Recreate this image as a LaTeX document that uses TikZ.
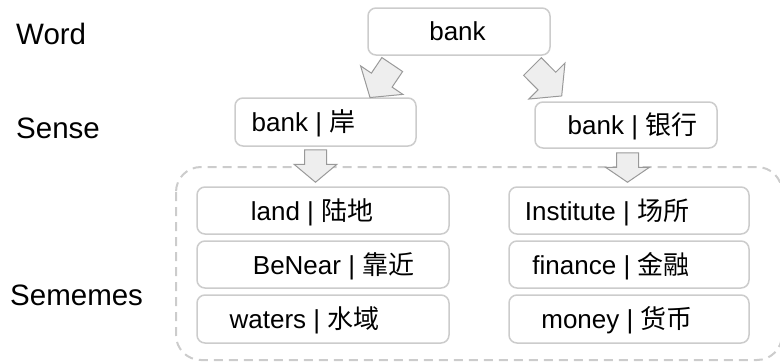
\documentclass[tikz,border=0pt]{standalone}
\usepackage{fontspec}
\setmainfont{Liberation Sans}
\newfontfamily\cjk{Noto Sans CJK SC}
\usetikzlibrary{calc}
\definecolor{boxline}{HTML}{CCCCCC}
\definecolor{arrfill}{HTML}{EEEEEE}
\definecolor{arrline}{HTML}{999999}
\tikzset{
  box/.style={draw=boxline, line width=1.5pt, rounded corners=8pt, fill=white, inner sep=0pt},
  txt/.style={anchor=base, inner sep=0pt, font=\fontsize{26}{30}\selectfont},
  lbl/.style={anchor=base west, inner sep=0pt, font=\fontsize{29.5}{34}\selectfont},
  barrow/.style={draw=arrline, fill=arrfill, line width=1pt, line join=miter},
  group/.style={draw=boxline, line width=2pt, dash pattern=on 9pt off 6pt, rounded corners=25pt}
}
\newcommand\blockarrow[5]{%
 \draw[barrow] let \p1=(#1), \p2=(#2), \n1={atan2(\y2-\y1,\x2-\x1)} in
 ($(\p1)+({\n1-90}:#3pt)$) -- ($(\p2)+({\n1+180}:#5pt)+({\n1-90}:#3pt)$)
 -- ($(\p2)+({\n1+180}:#5pt)+({\n1-90}:#4pt)$) -- (\p2)
 -- ($(\p2)+({\n1+180}:#5pt)+({\n1+90}:#4pt)$)
 -- ($(\p2)+({\n1+180}:#5pt)+({\n1+90}:#3pt)$)
 -- ($(\p1)+({\n1+90}:#3pt)$) -- cycle;}
\begin{document}
\begin{tikzpicture}[x=1pt, y=-1pt]
\useasboundingbox (0,0) rectangle (780,364);
% group of sememes
\draw[group] (176,167) rectangle (782,360);
% boxes
\node[box, minimum width=182pt, minimum height=47pt] (word) at (459,31.5) {};
\node[box, minimum width=181pt, minimum height=48pt] (s1) at (325.5,122) {};
\node[box, minimum width=182pt, minimum height=46pt] (s2) at (626,125) {};
\node[box, minimum width=252pt, minimum height=47pt] (l1) at (323,210.5) {};
\node[box, minimum width=252pt, minimum height=47pt] (l2) at (323,264.5) {};
\node[box, minimum width=252pt, minimum height=48pt] (l3) at (323,319) {};
\node[box, minimum width=240pt, minimum height=47pt] (r1) at (629,210.5) {};
\node[box, minimum width=240pt, minimum height=47pt] (r2) at (629,264.5) {};
\node[box, minimum width=240pt, minimum height=48pt] (r3) at (629,319) {};
% texts
\node[txt] (tword) at (457.5,41) {bank};
\node[txt] (ts1) at (303.5,131.5) {bank | {\cjk 岸}};
\node[txt] (ts2) at (632.5,134.5) {bank | {\cjk 银行}};
\node[txt] (tl1) at (312,220) {land | {\cjk 陆地}};
\node[txt] (tl2) at (333.6,274) {BeNear | {\cjk 靠近}};
\node[txt] (tl3) at (304.5,328.5) {waters | {\cjk 水域}};
\node[txt] (tr1) at (607,220) {Institute | {\cjk 场所}};
\node[txt] (tr2) at (611,274) {finance | {\cjk 金融}};
\node[txt] (tr3) at (617,328.5) {money | {\cjk 货币}};
% level labels
\node[lbl] (lw) at (16,45) {Word};
\node[lbl] (ls) at (16,138) {Sense};
\node[lbl] (lm) at (10,305) {Sememes};
% arrow end points
\coordinate (a1s) at ($(word.south west)+(25,8.8)$);
\coordinate (a1e) at ($(s1.north)+(44.5,0.3)$);
\coordinate (a2s) at ($(word.south east)+(-18.3,10.8)$);
\coordinate (a2e) at ($(s2.north)+(-64.3,-5.3)$);
\coordinate (a3s) at ($(s1.south)+(-10,3)$);
\coordinate (a3e) at ($(l1.north)+(-7.5,-4)$);
\coordinate (a4s) at ($(s2.south)+(1.5,4)$);
\coordinate (a4e) at ($(r1.north)+(-1.5,-4)$);
\blockarrow{a1s}{a1e}{12.5}{25.5}{21}
\blockarrow{a2s}{a2e}{12.5}{25.5}{21}
\blockarrow{a3s}{a3e}{11}{21.5}{18}
\blockarrow{a4s}{a4e}{11}{22}{15}
\end{tikzpicture}
\end{document}
